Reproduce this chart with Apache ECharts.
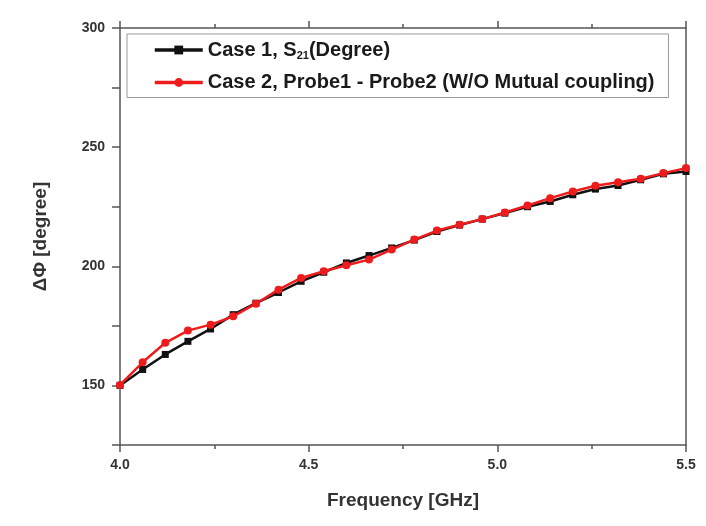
<!DOCTYPE html>
<html><head><meta charset="utf-8">
<script src="https://cdn.jsdelivr.net/npm/echarts@6/dist/echarts.min.js"></script>
<style>html,body{margin:0;padding:0;background:#fff}#c{width:706px;height:526px}</style>
</head><body><div id="c"></div>
<script>
const freq = [4.00,4.06,4.12,4.18,4.24,4.30,4.36,4.42,4.48,4.54,4.60,4.66,4.72,4.78,4.84,4.90,4.96,5.02,5.08,5.14,5.20,5.26,5.32,5.38,5.44,5.50];
const case1 = [150.0,156.7,163.0,168.5,173.7,179.7,184.5,189.0,193.7,197.5,201.4,204.5,207.7,211.0,214.6,217.3,219.8,222.3,225.0,227.2,230.0,232.4,233.9,236.3,238.8,239.8];
const case2 = [150.2,159.7,167.9,173.0,175.5,179.0,184.3,190.2,195.1,197.9,200.4,202.8,207.0,211.2,215.0,217.4,219.8,222.6,225.5,228.6,231.4,233.8,235.3,236.7,239.1,241.2];
const xTicks = [4.0,4.5,5.0,5.5];
const yTicks = [150,200,250,300];
const seriesNames = ['Case 1, S{sub|21}(Degree)','Case 2, Probe1 - Probe2 (W/O Mutual coupling)'];

const font = '"Liberation Sans", Arial, sans-serif';
const axisCol = '#555';
const chart = echarts.init(document.getElementById('c'));
const pair = (xs, ys) => xs.map((x,i)=>[x, ys[i]]);
const baseX = {type:'value', min:4.0, max:5.5, interval:0.5,
  axisLine:{show:true,onZero:false,lineStyle:{color:axisCol,width:1.5}},
  axisTick:{show:true,inside:false,length:7,lineStyle:{color:axisCol,width:1.5}},
  minorTick:{show:true,splitNumber:2,length:4,lineStyle:{color:axisCol,width:1.5}},
  splitLine:{show:false}};
const baseY = {type:'value', min:125, max:300, interval:25,
  axisLine:{show:true,onZero:false,lineStyle:{color:axisCol,width:1.5}},
  axisTick:{show:true,inside:false,length:8,lineStyle:{color:axisCol,width:1.5}},
  splitLine:{show:false}};
chart.setOption({
  backgroundColor:'#fff',
  animation:false,
  grid:{left:120,right:20,top:28,bottom:81},
  legend:{
    orient:'vertical', left:127, top:34,
    borderColor:'#999', borderWidth:1, padding:[6,14,5,26],
    itemWidth:48, itemHeight:11, itemGap:11,
    lineStyle:{width:3.5},
    data:[seriesNames[0],seriesNames[1]],
    textStyle:{fontFamily:font,fontWeight:'bold',fontSize:20,color:'#1a1a1a',
      rich:{sub:{fontSize:11,fontWeight:'bold',fontFamily:font,color:'#1a1a1a',verticalAlign:'bottom',padding:[12,0,0,0]}}}
  },
  xAxis:[
    Object.assign({}, baseX, {position:'bottom',
      name:'Frequency [GHz]', nameLocation:'middle', nameGap:46,
      nameTextStyle:{fontFamily:font,fontWeight:'bold',fontSize:19,color:'#333'},
      axisLabel:{fontFamily:font,fontWeight:'bold',fontSize:14,color:'#333',margin:13,
        formatter:v=>xTicks.includes(+v.toFixed(2))?v.toFixed(1):''}}),
    Object.assign({}, baseX, {position:'top', axisLabel:{show:false}})
  ],
  yAxis:[
    Object.assign({}, baseY, {position:'left',
      name:'ΔΦ [degree]', nameLocation:'middle', nameGap:70, nameRotate:90,
      nameTextStyle:{fontFamily:font,fontWeight:'bold',fontSize:19,color:'#333'},
      axisLabel:{fontFamily:font,fontWeight:'bold',fontSize:14,color:'#333',margin:15,
        formatter:v=>yTicks.includes(v)?String(v):''}}),
    Object.assign({}, baseY, {position:'right', axisLabel:{show:false}, axisTick:{show:false}})
  ],
  series:[
    {name:seriesNames[0], type:'line', data:pair(freq,case1), symbol:'rect', symbolSize:7,
     lineStyle:{color:'#111',width:2.5}, itemStyle:{color:'#111'}, z:2},
    {name:seriesNames[1], type:'line', data:pair(freq,case2), symbol:'circle', symbolSize:8,
     lineStyle:{color:'#ee1c1c',width:2.5}, itemStyle:{color:'#ee1c1c'}, z:3}
  ]
});
</script></body></html>
